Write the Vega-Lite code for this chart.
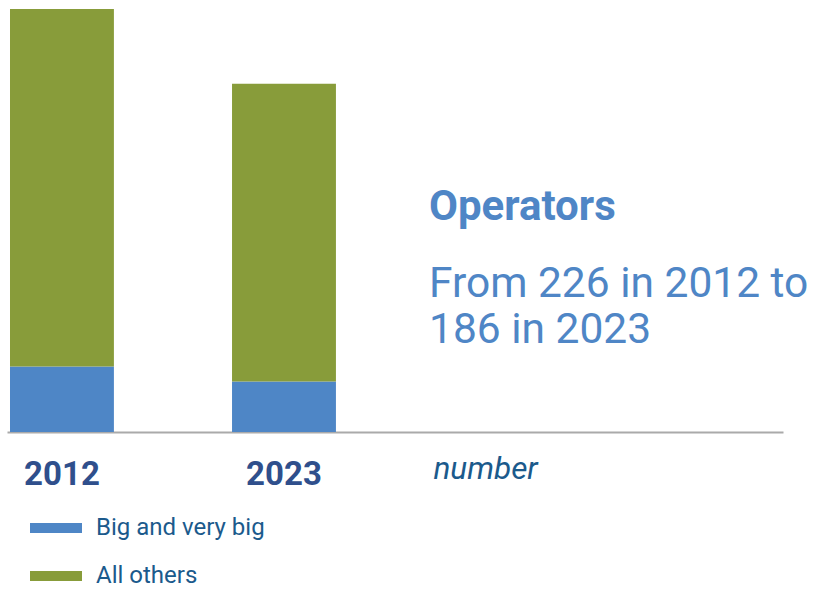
{
  "$schema": "https://vega.github.io/schema/vega-lite/v6.json",
  "width": 776,
  "height": 423,
  "autosize": {"type": "none"},
  "padding": {"left": 7, "top": 9, "right": 36, "bottom": 160},
  "config": {"font": "Roboto", "view": {"stroke": null}},
  "title": {
    "text": "Operators",
    "subtitle": ["From 226 in 2012 to", "186 in 2023"],
    "anchor": "start",
    "frame": "group",
    "orient": "top",
    "dx": 422,
    "dy": 347,
    "fontSize": 42,
    "fontWeight": "bold",
    "color": "#4f86c6",
    "subtitleFont": "Roboto",
    "subtitleFontSize": 42.5,
    "subtitleColor": "#4f86c6",
    "subtitleLineHeight": 46,
    "subtitlePadding": 34
  },
  "data": {
    "values": [
      {"year": "2012", "group": "Big and very big", "value": 35},
      {"year": "2012", "group": "All others", "value": 191},
      {"year": "2023", "group": "Big and very big", "value": 27},
      {"year": "2023", "group": "All others", "value": 159}
    ]
  },
  "mark": {"type": "bar"},
  "encoding": {
    "x": {
      "field": "year",
      "type": "nominal",
      "scale": {"domain": ["2012", "2023", "c3", "c4"], "paddingInner": 0.532, "paddingOuter": 0.0135},
      "axis": {
        "domain": true,
        "domainColor": "#aaaaaa",
        "domainWidth": 2,
        "ticks": false,
        "grid": false,
        "labelAngle": 0,
        "labelExpr": "datum.value == 'c3' || datum.value == 'c4' ? '' : datum.label",
        "labelFont": "Roboto",
        "labelFontWeight": "bold",
        "labelFontSize": 33,
        "labelColor": "#2f4f8c",
        "labelBaseline": "top",
        "labelPadding": 26,
        "title": "number",
        "titleFont": "Roboto",
        "titleFontStyle": "italic",
        "titleFontWeight": "normal",
        "titleFontSize": 31.5,
        "titleColor": "#1b5a8c",
        "titleX": 426,
        "titleY": 46,
        "titleAlign": "left",
        "titleBaseline": "alphabetic"
      }
    },
    "y": {
      "field": "value",
      "type": "quantitative",
      "stack": "zero",
      "scale": {"domain": [0, 226], "nice": false},
      "axis": null
    },
    "color": {
      "field": "group",
      "type": "nominal",
      "scale": {"domain": ["Big and very big", "All others"], "range": ["#4e86c6", "#889c3a"]},
      "legend": {
        "orient": "none",
        "legendX": 36,
        "legendY": 506,
        "title": null,
        "padding": 0,
        "symbolType": "M-2,-0.38H2V0.38H-2Z",
        "symbolSize": 676,
        "symbolStrokeWidth": 0,
        "symbolOpacity": 1,
        "labelFont": "Roboto",
        "labelFontSize": 24,
        "labelLimit": 400,
        "labelColor": "#1b5a8c",
        "labelOffset": 27,
        "rowPadding": 23
      }
    },
    "order": {"field": "group", "sort": "descending"}
  }
}
